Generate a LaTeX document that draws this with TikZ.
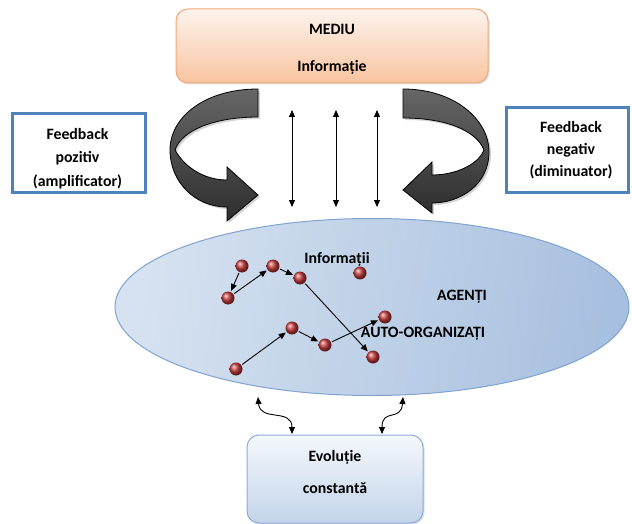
\documentclass[tikz,border=0pt]{standalone}
\usepackage{fontspec}
\setmainfont{Carlito}
\usetikzlibrary{arrows.meta,shapes.geometric,shadows}
\definecolor{medtop}{HTML}{FDF3EC}
\definecolor{medbot}{HTML}{F8C4A0}
\definecolor{medline}{HTML}{F0A878}
\definecolor{fbline}{HTML}{4F81BD}
\definecolor{elleft}{HTML}{D6E2F0}
\definecolor{elmid}{HTML}{DDE7F3}
\definecolor{elright}{HTML}{A8C0DF}
\definecolor{elline}{HTML}{7FA3D0}
\definecolor{evtop}{HTML}{F5F8FC}
\definecolor{evbot}{HTML}{C3D4EA}
\definecolor{evline}{HTML}{8EAADB}
\definecolor{dotred}{HTML}{C83C3C}
\tikzset{
  txt/.style={font=\bfseries\fontsize{15.8}{19}\selectfont, align=center},
  fbbox/.style={draw=fbline, line width=3pt, fill=white, inner sep=0pt},
  agent/.style={circle, inner sep=0pt, minimum size=13pt, ball color=dotred},
  link/.style={-{Triangle[length=7pt,width=6pt]}, line width=0.9pt, shorten >=1pt, shorten <=1pt},
  vlink/.style={{Triangle[length=7pt,width=6pt]}-{Triangle[length=7pt,width=6pt]}, line width=0.9pt},
  bigarrow/.style={draw=black, line width=0.8pt, top color=black!60, bottom color=black!82,
    drop shadow={shadow xshift=2pt, shadow yshift=-2pt, opacity=0.35}},
}
\begin{document}
\begin{tikzpicture}[x=1pt,y=-1pt]
\useasboundingbox (0,0) rectangle (632,524);

% MEDIU box
\node[draw=medline, line width=1pt, rounded corners=12pt, top color=medtop, bottom color=medbot,
      minimum width=312pt, minimum height=74pt, inner sep=0pt,
      drop shadow={shadow xshift=1.5pt, shadow yshift=-1.5pt, opacity=0.25}] (mediu) at (332,46) {};
\node[txt] (mediuT) at (332,29) {MEDIU};
\node[txt] (infoT) at (332,67) {Informație};

% Feedback boxes
\node[fbbox, minimum width=133pt, minimum height=78pt] (fbpos) at (78.5,153) {};
\node[txt, font=\bfseries\fontsize{15.8}{23.5}\selectfont] (fbposT) at (77.5,158.5) {Feedback\\pozitiv\\(amplificator)};
\node[fbbox, minimum width=122pt, minimum height=84pt] (fbneg) at (567,150) {};
\node[txt, font=\bfseries\fontsize{15.8}{22}\selectfont] (fbnegT) at (571,150) {Feedback\\negativ\\(diminuator)};

% big curved arrows
\path[bigarrow] (258,89) -- (258,117) .. controls (215,117) and (182,130) .. (175,150)
  .. controls (185,168) and (205,180) .. (227,180) -- (227,167) -- (258,195) -- (227,221)
  -- (227,207) .. controls (195,207) and (170,182) .. (170,150)
  .. controls (170,117) and (205,89) .. (258,89) -- cycle;
\path[bigarrow] (403,89) -- (403,118) .. controls (445,118) and (476,130) .. (484,150)
  .. controls (478,165) and (455,175) .. (432,175) -- (432,162) -- (403,190) -- (432,213)
  -- (432,203) .. controls (460,203) and (489,185) .. (489,152)
  .. controls (489,120) and (455,89) .. (403,89) -- cycle;

% vertical double arrows
\coordinate (v1t) at (292,110); \coordinate (v1b) at (292,207);
\coordinate (v2t) at (336,110); \coordinate (v2b) at (336,207);
\coordinate (v3t) at (377,110); \coordinate (v3b) at (377,207);
\draw[vlink] (v1t) -- (v1b);
\draw[vlink] (v2t) -- (v2b);
\draw[vlink] (v3t) -- (v3b);

% ellipse
\node[ellipse, draw=elline, line width=1pt, minimum width=514pt, minimum height=177pt, inner sep=0pt,
      shading=axis, left color=elleft, middle color=elmid, right color=elright, shading angle=80] (agenti) at (372,307) {};

\node[txt] (infT) at (337,259) {Informații};
\node[txt] (agT) at (462,297) {AGENȚI};
\node[txt] (aoT) at (423,334) {AUTO-ORGANIZAȚI};

% agents
\node[agent] (d1) at (242,266) {};
\node[agent] (d2) at (273,266) {};
\node[agent] (d3) at (300,278) {};
\node[agent] (d4) at (228,298) {};
\node[agent] (d5) at (360,273) {};
\node[agent] (d6) at (385,317) {};
\node[agent] (d7) at (292,328) {};
\node[agent] (d8) at (325,345) {};
\node[agent] (d9) at (236,369) {};
\node[agent] (d10) at (373,357) {};

\draw[link] (d1) -- (d4);
\draw[link] (d4) -- (d2);
\draw[link] (d2) -- (d3);
\draw[link] (d3) -- (d10);
\draw[link] (d9) -- (d7);
\draw[link] (d7) -- (d8);
\draw[link] (d8) -- (d6);

% bottom box
\node[draw=evline, line width=1pt, rounded corners=12pt, top color=evtop, bottom color=evbot,
      minimum width=176pt, minimum height=88pt, inner sep=0pt,
      drop shadow={shadow xshift=1.5pt, shadow yshift=-1.5pt, opacity=0.25}] (evol) at (335,479) {};
\node[txt] (evT) at (335,457) {Evoluție};
\node[txt] (csT) at (335,488) {constantă};

% wavy arrows
\coordinate (w1a) at (258,397); \coordinate (w1b) at (292,434);
\coordinate (w2a) at (403,397); \coordinate (w2b) at (382,434);
\draw[vlink] (w1a) .. controls (260,422) and (292,408) .. (w1b);
\draw[vlink] (w2a) .. controls (401,422) and (382,408) .. (w2b);
\end{tikzpicture}
\end{document}
